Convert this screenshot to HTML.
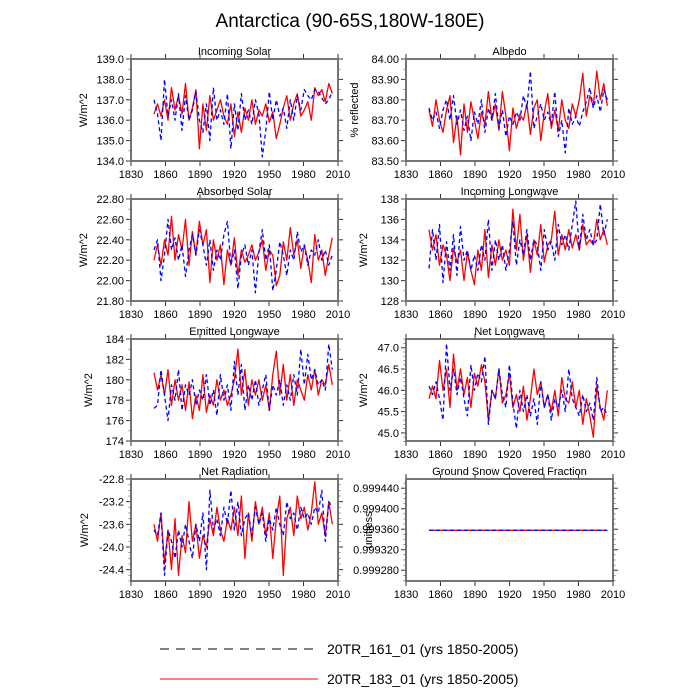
<!DOCTYPE html>
<html><head><meta charset="utf-8">
<style>
html,body{margin:0;padding:0;background:#fff;}
svg{display:block;font-family:"Liberation Sans",sans-serif;}
</style></head>
<body>
<svg id="chart" width="700" height="700" viewBox="0 0 700 700">
<text x="350" y="27" text-anchor="middle" font-size="19" fill="#000">Antarctica (90-65S,180W-180E)</text>
<g id="panels"></g>
<g>
<line x1="160" y1="649" x2="318" y2="649" stroke="#000" stroke-width="1" stroke-dasharray="9,7"/>
<text x="327" y="654" font-size="14" fill="#000">20TR_161_01 (yrs 1850-2005)</text>
<line x1="160" y1="679" x2="318" y2="679" stroke="#f00" stroke-width="1"/>
<text x="327" y="684" font-size="14" fill="#000">20TR_183_01 (yrs 1850-2005)</text>
</g>
</svg>
<script>
const startYear = 1850, endYear = 2005;
const xTicks = [1830,1860,1890,1920,1950,1980,2010];

const solarRed = [136.3,136.8,136.2,137.0,136.0,137.6,136.5,137.2,136.3,137.8,136.0,136.6,137.5,134.6,136.8,135.5,137.2,136.0,136.5,137.0,136.2,135.8,136.8,135.2,136.4,135.4,136.6,136.0,137.0,135.8,136.5,136.2,136.8,135.9,136.4,135.1,135.8,136.6,137.2,136.0,136.8,137.3,136.2,136.5,136.9,136.0,137.6,137.2,137.5,136.9,137.8,137.3];
const solarBlue = [137.0,136.3,135.0,138.0,136.2,137.0,136.0,137.3,135.5,137.2,136.0,136.5,137.4,136.0,135.4,136.8,135.0,137.6,136.0,136.5,135.8,137.3,134.6,136.8,135.5,137.3,136.0,136.5,135.8,137.0,136.3,134.2,135.5,137.4,136.0,137.0,136.2,136.6,135.6,137.0,136.0,137.2,136.5,137.5,137.2,137.0,137.5,137.4,137.1,136.8,137.0,137.4];
const albedoRed = [83.75,83.67,83.80,83.70,83.64,83.75,83.82,83.59,83.72,83.53,83.78,83.64,83.79,83.70,83.61,83.74,83.68,83.84,83.70,83.78,83.65,83.84,83.72,83.55,83.76,83.66,83.73,83.70,83.78,83.63,83.76,83.80,83.60,83.74,83.83,83.66,83.75,83.65,83.80,83.70,83.66,83.78,83.72,83.80,83.93,83.72,83.82,83.77,83.94,83.80,83.88,83.77];
const albedoBlue = [83.76,83.70,83.74,83.66,83.75,83.80,83.70,83.82,83.68,83.75,83.65,83.72,83.60,83.74,83.68,83.80,83.64,83.76,83.70,83.83,83.66,83.75,83.62,83.72,83.68,83.74,83.70,83.82,83.76,83.94,83.66,83.72,83.78,83.70,83.74,83.68,83.84,83.62,83.70,83.54,83.76,83.68,83.72,83.67,83.74,83.79,83.86,83.76,83.82,83.74,83.85,83.80];
const absRed = [22.20,22.35,22.15,22.40,22.25,22.63,22.20,22.45,22.30,22.60,22.15,22.48,22.25,22.58,22.35,22.50,21.98,22.40,22.20,22.35,21.96,22.30,22.15,22.42,22.05,22.30,22.18,22.25,22.35,22.20,22.28,22.40,22.10,22.30,22.25,21.95,22.05,22.38,22.20,22.52,22.25,22.40,22.12,22.35,22.20,21.98,22.45,22.20,22.30,22.05,22.25,22.42];
const absBlue = [22.30,22.40,22.00,22.25,22.60,22.30,22.42,22.20,22.35,22.04,22.30,22.45,22.25,22.50,22.35,22.15,22.40,22.10,22.30,22.20,22.45,22.58,22.15,22.30,21.92,22.25,22.35,22.15,22.30,21.88,22.28,22.50,22.20,22.35,21.90,22.10,22.38,22.25,22.05,22.30,22.20,22.48,22.28,22.35,22.15,22.30,22.25,22.40,22.20,22.30,22.15,22.25];
const inLwRed = [135.0,133.0,134.5,131.5,133.5,132.5,130.0,133.2,131.8,133.0,130.0,132.8,131.0,129.6,133.0,131.0,135.0,130.3,133.5,131.5,134.0,132.0,133.0,131.5,137.0,133.0,136.5,132.0,134.5,130.8,134.0,132.5,135.5,131.8,133.5,134.0,136.8,132.5,134.5,133.0,135.0,133.2,134.5,133.0,135.5,133.5,134.0,133.5,136.0,134.0,135.0,133.5];
const inLwBlue = [131.2,135.0,132.0,135.5,129.8,133.8,131.0,134.5,130.5,135.3,132.0,133.0,131.0,132.5,131.0,133.5,132.0,136.0,131.0,134.0,132.0,133.5,131.0,133.0,135.8,131.5,134.0,132.5,135.0,132.0,134.0,133.5,131.0,135.0,133.0,133.8,132.0,135.5,133.5,134.5,133.0,135.5,137.8,133.0,136.5,134.0,135.0,133.5,134.0,137.5,134.5,136.0];
const emRed = [180.7,179.0,180.5,178.5,181.0,177.5,180.0,178.0,179.5,177.0,179.8,176.2,178.5,177.0,180.5,176.8,178.5,177.5,180.0,178.0,179.0,177.5,178.5,180.0,183.0,178.5,181.0,177.5,180.0,178.5,180.0,178.0,179.5,177.0,180.5,182.8,178.5,181.5,178.0,180.5,177.5,180.0,179.0,178.0,180.5,179.0,181.0,178.5,180.0,179.5,181.5,179.5];
const emBlue = [177.2,177.5,181.0,178.5,176.0,179.5,178.0,181.0,177.0,179.5,178.5,180.0,177.5,179.0,178.0,180.5,177.5,179.0,176.5,180.5,178.0,179.5,177.0,181.8,178.5,181.5,177.0,179.5,178.0,180.0,177.5,179.0,180.5,177.0,179.5,178.5,180.0,177.5,179.5,178.0,180.5,178.5,183.0,179.5,182.5,180.0,181.0,179.5,180.0,179.0,183.5,181.0];
const netLwRed = [45.8,46.1,45.8,46.7,46.0,46.5,45.6,46.85,46.0,46.5,45.9,46.3,45.6,46.4,46.1,46.6,46.2,45.3,46.0,45.8,46.5,45.7,45.9,46.4,45.6,45.9,45.5,46.1,45.3,45.8,46.5,45.9,46.2,45.6,45.9,45.5,46.0,45.4,46.3,45.8,45.7,46.2,45.6,46.0,45.2,45.8,45.4,44.9,46.1,45.6,45.3,46.0];
const netLwBlue = [46.1,45.9,46.2,45.8,45.3,47.1,46.0,46.5,45.9,46.3,45.8,45.4,46.6,46.0,46.4,46.2,46.8,45.2,46.0,45.8,46.5,45.9,45.6,46.6,45.7,45.1,46.0,45.5,45.9,45.4,45.8,45.2,46.2,45.6,45.9,45.3,45.8,45.6,46.0,45.5,46.5,45.8,45.6,45.4,45.9,45.5,45.7,45.3,46.3,45.5,45.6,45.4];
const netRadRed = [-23.6,-23.9,-23.4,-24.3,-23.7,-24.4,-23.5,-24.5,-23.8,-24.1,-23.2,-23.9,-23.6,-24.2,-23.8,-24.0,-23.5,-23.8,-23.3,-23.7,-23.9,-23.5,-23.7,-23.3,-23.8,-23.1,-24.2,-23.4,-23.9,-23.2,-23.6,-23.3,-23.8,-23.4,-24.2,-23.5,-23.1,-24.5,-23.5,-23.3,-23.8,-23.1,-23.5,-23.3,-23.7,-23.4,-22.85,-23.6,-23.4,-23.8,-23.2,-23.6];
const netRadBlue = [-23.7,-23.8,-23.4,-24.5,-23.7,-23.9,-24.2,-23.7,-24.0,-23.6,-23.9,-24.2,-23.6,-23.9,-23.4,-24.4,-23.0,-23.7,-23.5,-23.8,-23.3,-23.6,-23.0,-23.7,-23.2,-23.8,-23.5,-23.4,-23.8,-23.3,-23.6,-23.4,-23.9,-23.5,-23.7,-23.3,-23.6,-23.8,-23.2,-23.5,-23.4,-23.7,-23.3,-23.5,-23.4,-23.6,-23.3,-23.4,-23.0,-23.9,-23.2,-23.3];
const snowRed = [0.999358,0.999358];
const snowBlue = [0.999358,0.999358];

const solarTicks = [134,135,136,137,138,139];
const albedoTicks = [83.5,83.6,83.7,83.8,83.9,84.0];
const absTicks = [21.8,22.0,22.2,22.4,22.6,22.8];
const inLwTicks = [128,130,132,134,136,138];
const emTicks = [174,176,178,180,182,184];
const netLwTicks = [45.0,45.5,46.0,46.5,47.0];
const netRadTicks = [-24.4,-24.0,-23.6,-23.2,-22.8];
const snowTicks = [0.99928,0.99932,0.99936,0.9994,0.99944];

const panels = [
 {name:'incoming-solar',title:'Incoming Solar',ylab:'W/m^2',L:131,T:59,ymin:134,ymax:139,ticks:solarTicks,dec:1,minor:2,red:solarRed,blue:solarBlue,yoff:44},
 {name:'albedo',title:'Albedo',ylab:'% reflected',L:406,T:59,ymin:83.5,ymax:84.0,ticks:albedoTicks,dec:2,minor:2,red:albedoRed,blue:albedoBlue,yoff:48},
 {name:'absorbed-solar',title:'Absorbed Solar',ylab:'W/m^2',L:131,T:199,ymin:21.8,ymax:22.8,ticks:absTicks,dec:2,minor:2,red:absRed,blue:absBlue,yoff:44},
 {name:'incoming-longwave',title:'Incoming Longwave',ylab:'W/m^2',L:406,T:199,ymin:128,ymax:138,ticks:inLwTicks,dec:0,minor:2,red:inLwRed,blue:inLwBlue,yoff:39},
 {name:'emitted-longwave',title:'Emitted Longwave',ylab:'W/m^2',L:131,T:339,ymin:174,ymax:184,ticks:emTicks,dec:0,minor:2,red:emRed,blue:emBlue,yoff:39},
 {name:'net-longwave',title:'Net Longwave',ylab:'W/m^2',L:406,T:339,ymin:44.81,ymax:47.205,ticks:netLwTicks,dec:1,minor:5,red:netLwRed,blue:netLwBlue,yoff:39},
 {name:'net-radiation',title:'Net Radiation',ylab:'W/m^2',L:131,T:479,ymin:-24.6,ymax:-22.8,ticks:netRadTicks,dec:1,minor:4,red:netRadRed,blue:netRadBlue,yoff:43},
 {name:'ground-snow',title:'Ground Snow Covered Fraction',ylab:'unitless',L:406,T:479,ymin:0.999259,ymax:0.999458,ticks:snowTicks,dec:6,minor:4,red:snowRed,blue:snowBlue,yoff:34}
];
const W = 207, H = 102;
const NS = 'http://www.w3.org/2000/svg';
const root = document.getElementById('panels');
function mk(tag, attrs, parent){const e=document.createElementNS(NS,tag);for(const k in attrs)e.setAttribute(k,attrs[k]);parent.appendChild(e);return e;}

panels.forEach(p=>{
  const g = mk('g',{},root);
  
  
  const xS = y => p.L + (y-1830)/180*W;
  const yS = v => p.T + H - (v-p.ymin)/(p.ymax-p.ymin)*H;
  const B = p.T+H, R = p.L+W;
  // title
  const t = mk('text',{x:p.L+W/2,y:p.T-4,'text-anchor':'middle','font-size':'11',fill:'#000'},g);
  t.textContent = p.title;
  
  
  // y label
  const cy = p.T+H/2, cx = p.L-p.yoff;
  const yl = mk('text',{x:cx,y:cy,'text-anchor':'middle','font-size':'11',fill:'#000',transform:'rotate(-90 '+cx+' '+cy+')'},g);
  yl.textContent = p.ylab;
  
  
  // x ticks
  xTicks.forEach((yr,i)=>{
    const x = xS(yr);
    mk('line',{x1:x,y1:B,x2:x,y2:B+5,stroke:'#333','stroke-width':1},g);
    mk('line',{x1:x,y1:p.T,x2:x,y2:p.T-5,stroke:'#333','stroke-width':1},g);
    const lb = mk('text',{x:x,y:B+17,'text-anchor':'middle','font-size':'11',fill:'#000'},g);
    lb.textContent = yr;
    
    
  });
  // y ticks
  const step = p.ticks[1]-p.ticks[0];
  p.ticks.forEach(v=>{
    const y = yS(v);
    mk('line',{x1:p.L,y1:y,x2:p.L-5,y2:y,stroke:'#333','stroke-width':1},g);
    mk('line',{x1:R,y1:y,x2:R+5,y2:y,stroke:'#333','stroke-width':1},g);
    const lb = mk('text',{x:p.L-7,y:y+4,'text-anchor':'end','font-size':'11',fill:'#000'},g);
    lb.textContent = v.toFixed(p.dec);
    
    
  });
  // minor y ticks
  for(let v=p.ticks[0]-step; v<=p.ticks[p.ticks.length-1]+step; v+=step/p.minor){
    const y = yS(v);
    if(y<p.T-0.5||y>B+0.5) continue;
    mk('line',{x1:p.L,y1:y,x2:p.L-2.5,y2:y,stroke:'#555','stroke-width':0.7},g);
    mk('line',{x1:R,y1:y,x2:R+2.5,y2:y,stroke:'#555','stroke-width':0.7},g);
  }
  // series
  const line = (arr,color,dash,nm)=>{
    const n = arr.length;
    const pts = arr.map((v,i)=>xS(startYear+i*(endYear-startYear)/(n-1)).toFixed(1)+','+yS(v).toFixed(1)).join(' ');
    const pl = mk('polyline',{points:pts,fill:'none',stroke:color,'stroke-width':1.3,'stroke-linejoin':'round'},g);
    if(dash) pl.setAttribute('stroke-dasharray',dash);
    
    
  };
  line(p.red,'#f00',null,p.name+'-series-183');
  line(p.blue,'#00f','4,3',p.name+'-series-161');
  // frame
  const fr = mk('rect',{x:p.L,y:p.T,width:W,height:H,fill:'none',stroke:'#666','stroke-width':1.8},g);
  
  
});
</script>
</body></html>
